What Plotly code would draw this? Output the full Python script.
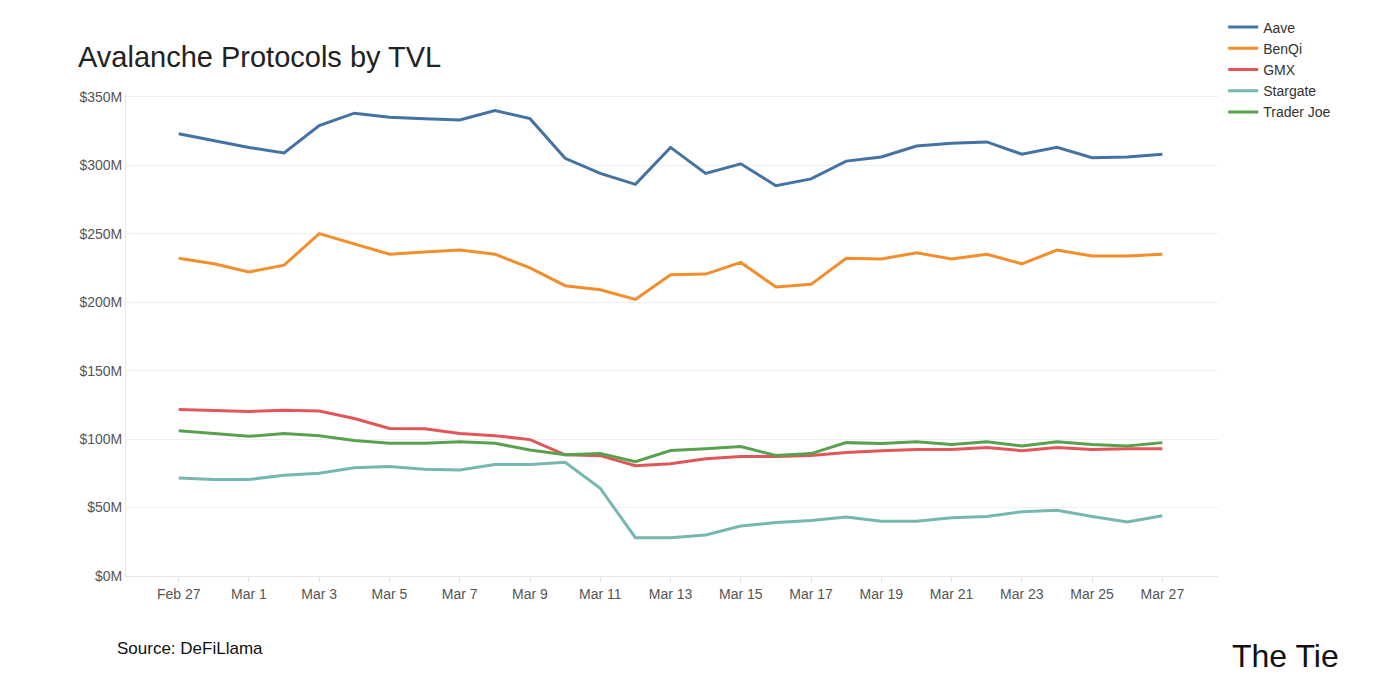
import pandas as pd
import plotly.graph_objects as go

dates = pd.date_range("2022-02-27", "2022-03-27", freq="D")

aave = [323, 318, 313, 309, 329, 338, 335, 334, 333, 340, 334, 305, 294, 286, 313,
        294, 301, 285, 290, 303, 306, 314, 316, 317, 308, 313, 305.5, 306, 308]
benqi = [232, 228, 222, 227, 250, 242.5, 235, 236.6, 238, 235, 225, 212, 209, 202, 220,
         220.5, 229, 211, 213, 232, 231.5, 236, 231.5, 235, 228, 238, 233.7, 233.7, 235]
gmx = [121.6, 121, 120.1, 121, 120.5, 115, 107.7, 107.5, 104, 102.5, 99.6, 88.5, 87.9, 80.6, 82,
       85.7, 87.2, 87.2, 88, 90.1, 91.5, 92.3, 92.3, 93.8, 91.5, 93.8, 92.3, 93, 93]
stargate = [71.5, 70.5, 70.5, 73.5, 75, 79, 80, 78, 77.5, 81.5, 81.5, 83, 64, 28, 28,
            30, 36.5, 39, 40.5, 43, 40, 40, 42.5, 43.5, 47, 48, 43.5, 39.5, 44]
trader_joe = [106, 104, 102, 104, 102.5, 99, 97, 97, 98, 97, 92, 88.6, 89.4, 83.5, 91.6,
              93, 94.5, 88, 89.4, 97.4, 96.7, 98, 96, 98, 95, 98, 96, 95, 97.4]

series = [
    ("Aave", aave, "#4372a3"),
    ("BenQi", benqi, "#f28e2b"),
    ("GMX", gmx, "#e15759"),
    ("Stargate", stargate, "#76b7b2"),
    ("Trader Joe", trader_joe, "#59a14f"),
]

fig = go.Figure()
for name, vals, color in series:
    fig.add_trace(go.Scatter(
        x=dates, y=[v * 1e6 for v in vals], name=name, mode="lines",
        line=dict(color=color, width=3)
    ))

fig.update_layout(
    width=1400, height=700,
    paper_bgcolor="white", plot_bgcolor="white",
    font=dict(family="Liberation Sans, Arial", color="#555"),
    margin=dict(l=118, r=190, t=86, b=132, autoexpand=False),
    title=dict(text="Avalanche Protocols by TVL", x=0.05, y=0.93, xanchor="left",
               yanchor="middle", font=dict(size=29, color="#222")),
    legend=dict(xref="container", yref="container", x=0.868, y=0.995,
                xanchor="left", yanchor="top",
                font=dict(size=14, color="#333"), tracegroupgap=2),
    showlegend=True,
)
fig.update_xaxes(
    range=[pd.Timestamp("2022-02-25 12:00"), pd.Timestamp("2022-03-28 14:00")],
    tickformat="%b %-d", dtick=2 * 86400000, tick0="2022-02-27",
    showgrid=False, showline=True, linecolor="#e6e6e6",
    ticks="outside", tickcolor="#e0e0e0", ticklen=5,
    tickfont=dict(size=14, color="#555")
)
fig.update_yaxes(
    range=[0, 352e6], tickvals=[i * 50e6 for i in range(8)],
    ticktext=[f"${i * 50}M" for i in range(8)],
    showgrid=True, gridcolor="#efefef", zeroline=True, zerolinecolor="#e6e6e6",
    showline=True, linecolor="#e6e6e6",
    tickfont=dict(size=14, color="#555")
)
fig.add_annotation(text="Source: DeFiLlama", xref="paper", yref="paper",
                   x=-0.01, y=-0.15, xanchor="left", yanchor="middle", showarrow=False,
                   font=dict(size=17, color="#111"))
fig.add_annotation(text="The Tie", xref="paper", yref="paper",
                   x=1.113, y=-0.167, xanchor="right", yanchor="middle", showarrow=False,
                   font=dict(size=32, color="#111"))

fig.write_html("out.html")
